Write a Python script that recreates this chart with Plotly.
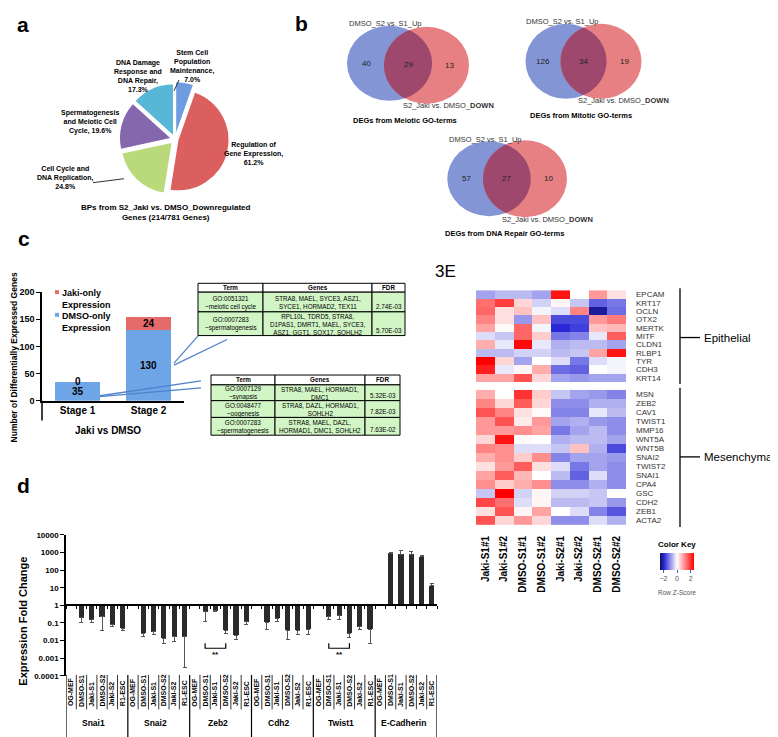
import numpy as np
import plotly.graph_objects as go

FONT = "Liberation Sans, Arial, Helvetica, sans-serif"
W, H = 778, 737

# ======================= DATA =======================
# (a) pie
pie_names = ["Stem Cell Population Maintenance", "Regulation of Gene Expression",
             "Cell Cycle and DNA Replication", "Spermatogenesis and Meiotic Cell Cycle",
             "DNA Damage Response and DNA Repair"]
pie_pct = [7.0, 61.2, 24.8, 19.6, 17.3]
pie_label_fmt = ["Stem Cell<br>Population<br>Maintenance,<br>{}%",
                 "Regulation of<br>Gene Expression,<br>{}%",
                 "Cell Cycle and<br>DNA Replication,<br>{}%",
                 "Spermatogenesis<br>and Meiotic Cell<br>Cycle, {}%",
                 "DNA Damage<br>Response and<br>DNA Repair,<br>{}%"]
pie_colors = ["#6f9be0", "#dc5f5f", "#b9d97a", "#8467ad", "#58b7d6"]
pie_title = "BPs from S2_Jaki vs. DMSO_Downregulated<br>Genes (214/781 Genes)"

# (b) venn diagrams
venn_titles = ["DEGs from Meiotic GO-terms", "DEGs from Mitotic GO-terms",
               "DEGs from DNA Repair GO-terms"]
venn_only_a = [40, 126, 57]
venn_both = [29, 34, 27]
venn_only_b = [13, 19, 10]
venn_set_a = "DMSO_S2 vs. S1_Up"
venn_set_b = "S2_Jaki vs. DMSO_<b>DOWN</b>"

# (c) stacked bars + GO tables
stages = ["Stage 1", "Stage 2"]
dmso_only = [35, 130]
jaki_only = [0, 24]
series_c = ["Jaki-only<br>Expression", "DMSO-only<br>Expression"]
table_header = ["Term", "Genes", "FDR"]
t1_terms = ["GO:0051321<br>~meiotic cell cycle", "GO:0007283<br>~spermatogenesis"]
t1_genes = ["STRA8, MAEL, SYCE3, ASZ1,<br>SYCE1, HORMAD2, TEX11",
            "RPL10L, TDRD5, STRA8,<br>D1PAS1, DMRT1, MAEL, SYCE3,<br>ASZ1, GGT1, SOX17, SOHLH2"]
t1_fdr = ["2.74E-03", "5.70E-03"]
t2_terms = ["GO:0007129<br>~synapsis", "GO:0048477<br>~oogenesis", "GO:0007283<br>~spermatogenesis"]
t2_genes = ["STRA8, MAEL, HORMAD1,<br>DMC1", "STRA8, DAZL, HORMAD1,<br>SOHLH2",
            "STRA8, MAEL, DAZL,<br>HORMAD1, DMC1, SOHLH2"]
t2_fdr = ["5.32E-03", "7.82E-03", "7.63E-02"]

# (3E) heatmap (row z-scores)
heat_cols = ["Jaki-S1#1", "Jaki-S1#2", "DMSO-S1#1", "DMSO-S1#2",
             "Jaki-S2#1", "Jaki-S2#2", "DMSO-S2#1", "DMSO-S2#2"]
epi_genes = ["EPCAM", "KRT17", "OCLN", "OTX2", "MERTK", "MITF", "CLDN1", "RLBP1", "TYR", "CDH3", "KRT14"]
epi_z = [
    [-0.8, -0.6, -0.6, -0.8, 2.3, 0.0, 1.0, 0.3],
    [1.4, 1.9, 0.4, -0.4, 0.1, -0.5, -1.4, -1.2],
    [1.5, 0.3, 0.6, -0.1, -0.3, 1.2, -2.2, -1.3],
    [1.2, 0.3, -0.9, 0.6, -1.6, -1.6, 1.0, 1.3],
    [0.9, 0.05, 1.5, -0.1, -1.9, -1.7, 0.6, 0.7],
    [-0.3, -0.5, 1.5, 0.5, -1.2, -1.1, -0.2, 1.6],
    [0.8, -0.2, 2.4, -0.2, -0.7, -0.6, -0.6, -0.8],
    [-0.6, -0.6, -0.4, -0.4, -0.6, -0.5, 0.9, 2.3],
    [2.5, 0.4, -0.8, 0.0, -0.3, -1.2, -0.3, -0.1],
    [2.2, -0.2, 0.1, 0.8, -1.3, -1.4, 0.0, -0.1],
    [0.9, 0.9, 1.7, 0.4, -0.8, -0.9, -0.8, -0.8],
]
mes_genes = ["MSN", "ZEB2", "CAV1", "TWIST1", "MMP16", "WNT5A", "WNT5B", "SNAI2", "TWIST2",
             "SNAI1", "CPA4", "GSC", "CDH2", "ZEB1", "ACTA2"]
mes_z = [
    [0.8, 0.0, 2.0, 0.5, -0.5, -0.8, -0.9, -1.1],
    [1.2, 0.4, 1.6, 0.4, -1.0, -1.0, -0.7, -0.7],
    [1.7, 1.2, 0.3, 0.05, -1.1, -1.1, -0.2, -0.6],
    [1.0, 1.7, 0.2, 1.0, -0.8, -0.7, -0.9, -1.0],
    [1.0, 1.0, 1.1, 0.9, -1.2, -0.8, -0.6, -1.0],
    [0.4, 2.3, 0.05, 0.0, -0.7, -0.6, -0.6, -0.8],
    [1.2, 1.1, -0.3, -0.3, -0.5, 0.6, -0.7, -1.6],
    [0.8, 1.1, 0.5, 1.1, -1.1, -0.8, -0.8, -0.9],
    [0.3, 1.0, 1.6, 0.3, -0.3, -1.2, -0.8, -1.0],
    [0.9, 1.6, 0.7, 0.0, -0.6, -1.4, -0.3, -1.0],
    [1.1, 0.5, 0.8, 1.1, -1.0, -1.0, -0.7, -1.0],
    [-0.5, 2.5, -0.4, 0.1, -0.4, -0.4, -0.5, 0.0],
    [1.8, 1.4, -0.3, 0.1, -0.6, -0.6, -0.5, -0.9],
    [0.3, 1.7, 0.1, 0.9, 0.0, -0.3, -1.1, -1.5],
    [1.7, 0.4, 1.0, 0.4, -1.0, -1.0, -0.3, -0.7],
]

# (d) qPCR fold change (log axis)
genes_d = ["Snai1", "Snai2", "Zeb2", "Cdh2", "Twist1", "E-Cadherin"]
samples_d = ["OG-MEF", "DMSO-S1", "Jaki-S1", "DMSO-S2", "Jaki-S2", "R1-ESC"]
fc_snai1 = [1, 0.20, 0.16, 0.22, 0.08, 0.05]
fc_snai2 = [1, 0.027, 0.032, 0.014, 0.017, 0.017]
fc_zeb2 = [1, 0.42, 0.50, 0.04, 0.02, 0.12]
fc_cdh2 = [1, 0.11, 0.19, 0.04, 0.04, 0.045]
fc_twist1 = [1, 0.22, 0.27, 0.027, 0.06, 0.045]
fc_ecad = [1, 900, 800, 800, 600, 13.5]
err_snai1 = [1, 0.11, 0.11, 0.036, 0.065, 0.04]
err_snai2 = [1, 0.017, 0.023, 0.007, 0.009, 0.0003]
err_zeb2 = [1, 0.12, 0.42, 0.027, 0.011, 0.08]
err_cdh2 = [1, 0.045, 0.12, 0.011, 0.023, 0.023]
err_twist1 = [1, 0.16, 0.16, 0.016, 0.045, 0.0065]
err_ecad = [1, 1000, 1300, 1100, 680, 18]
ytick_d = [0.0001, 0.001, 0.01, 0.1, 1, 10, 100, 1000, 10000]
sig_pairs = [("Zeb2", "DMSO-S1", "DMSO-S2"), ("Twist1", "DMSO-S1", "DMSO-S2")]

# ======================= HELPERS =======================
def X(px):
    return px / W


def Y(py):
    return 1 - py / H


annotations = []
shapes = []


def add_text(x, y, s, size=8, bold=False, color="black", xanchor="center", yanchor="middle",
             angle=0, xref="paper", yref="paper", xshift=0, align="center"):
    annotations.append(dict(
        x=X(x) if xref == "paper" else x, y=Y(y) if yref == "paper" else y,
        xref=xref, yref=yref, text=f"<b>{s}</b>" if bold else s, showarrow=False,
        font=dict(family=FONT, size=size, color=color), xanchor=xanchor, yanchor=yanchor,
        textangle=angle, xshift=xshift, align=align, borderpad=0))


def add_line(x0, y0, x1, y1, color="black", width=1):
    shapes.append(dict(type="line", xref="paper", yref="paper", x0=X(x0), y0=Y(y0),
                       x1=X(x1), y1=Y(y1), line=dict(color=color, width=width)))


def draw_table(col_edges, row_edges, header, columns, size=6.3):
    nrows = len(columns[0])
    for r in range(nrows + 1):
        for c in range(len(header)):
            x0, x1 = col_edges[c], col_edges[c + 1]
            y0, y1 = row_edges[r], row_edges[r + 1]
            shapes.append(dict(type="rect", xref="paper", yref="paper", x0=X(x0), x1=X(x1),
                               y0=Y(y1), y1=Y(y0), fillcolor="white" if r == 0 else "#d2f5c6",
                               line=dict(color="black", width=1)))
            if r == 0:
                add_text((x0 + x1) / 2, (y0 + y1) / 2, header[c], size=size, bold=True)
            elif c == len(header) - 1:
                add_text((x0 + x1) / 2, y1 - 1, columns[c][r - 1], size=size, yanchor="bottom")
            else:
                add_text((x0 + x1) / 2, (y0 + y1) / 2 + 0.5, columns[c][r - 1], size=size)


fig = go.Figure()

# ======================= (a) PIE =======================
fig.add_trace(go.Pie(values=pie_pct, labels=pie_names, sort=False, direction="clockwise",
                     rotation=0, pull=[0.14, 0.07, 0.1, 0.1, 0.1], textinfo="none",
                     marker=dict(colors=pie_colors, line=dict(color="white", width=0)),
                     domain=dict(x=[X(108), X(226)], y=[Y(186), Y(70)]),
                     showlegend=False, hoverinfo="label+value"))
pie_label_pos = [(184, 54), (245, 142), (57, 167), (82, 110), (130, 64)]
for fmt, v, (px, py) in zip(pie_label_fmt, pie_pct, pie_label_pos):
    add_text(px, py, fmt.format(f"{v:.1f}"), size=7, bold=True)
add_line(171, 68, 166, 79, color="#333", width=1)
add_line(85, 172, 116, 168, color="#333", width=1)
add_text(158, 202, pie_title, size=8, bold=True)

# ======================= (b) VENN =======================
venn_geom = [((381.5, 51, 42.5, 38), (418.5, 53, 42.5, 39)),
             ((558, 49, 40.5, 38), (593, 49, 40.5, 38)),
             ((481, 168, 41.7, 38), (517, 168, 42, 39))]


def ell_pts(cx, cy, rx, ry, n=180):
    t = np.linspace(0, 2 * np.pi, n, endpoint=False)
    return cx + rx * np.cos(t), cy + ry * np.sin(t)


def inside(xs, ys, cx, cy, rx, ry):
    return ((xs - cx) / rx) ** 2 + ((ys - cy) / ry) ** 2 <= 1


def arc(xs, ys, mask):
    n = len(mask)
    start = [i for i in range(n) if mask[i] and not mask[i - 1]][0]
    order = [(start + k) % n for k in range(n) if mask[(start + k) % n]]
    return list(xs[order]), list(ys[order])


def path_of(xs, ys):
    return "M " + " L ".join(f"{X(a):.5f},{Y(b):.5f}" for a, b in zip(xs, ys)) + " Z"


for i, (ca, cb) in enumerate(venn_geom):
    for (cx, cy, rx, ry), col in ((ca, "rgb(132,149,214)"), (cb, "rgb(231,128,130)")):
        shapes.append(dict(type="circle", xref="paper", yref="paper", x0=X(cx - rx), x1=X(cx + rx),
                           y0=Y(cy + ry), y1=Y(cy - ry), fillcolor=col, line=dict(width=0)))
    ax, ay = ell_pts(*ca)
    bx, by = ell_pts(*cb)
    a_x, a_y = arc(ax, ay, inside(ax, ay, *cb))
    b_x, b_y = arc(bx, by, inside(bx, by, *ca))
    shapes.append(dict(type="path", xref="paper", yref="paper", path=path_of(a_x + b_x, a_y + b_y),
                       fillcolor="rgb(158,72,110)", line=dict(width=0)))
    acx, acy, arx, ary = ca
    bcx, bcy, brx, bry = cb
    add_text(acx - 23, acy, str(venn_only_a[i]), size=8, color="#222")
    add_text((acx + bcx) / 2, (acy + bcy) / 2, str(venn_both[i]), size=8, color="#222")
    add_text(bcx + 23, bcy, str(venn_only_b[i]), size=8, color="#222")
    add_text(acx - 4, acy - ary - 2, venn_set_a, size=7.5, color="#333")
    add_text(bcx + 22, bcy + bry + 2, venn_set_b, size=7.5, color="#333")
    add_text((acx + bcx) / 2 - 3, bcy + bry + 17, venn_titles[i], size=7.5, bold=True)

# ======================= (c) STACKED BARS =======================
fig.add_trace(go.Bar(x=stages, y=dmso_only, name=series_c[1], marker=dict(color="#6ea5e6", line=dict(width=0)),
                     width=0.64, xaxis="x", yaxis="y", showlegend=False))
fig.add_trace(go.Bar(x=stages, y=jaki_only, name=series_c[0], marker=dict(color="#e56b6b", line=dict(width=0)),
                     width=0.64, xaxis="x", yaxis="y", showlegend=False))
for s, d, j in zip(stages, dmso_only, jaki_only):
    add_text(s, d / 2, str(d), size=10, bold=True, xref="x", yref="y")
    add_text(s, d + j / 2, str(j), size=10, bold=True, xref="x", yref="y")
for k, (lab, col, ly) in enumerate(zip(series_c, ["#e56b6b", "#6ea5e6"], [290, 313])):
    shapes.append(dict(type="rect", xref="paper", yref="paper", x0=X(47), x1=X(51),
                       y0=Y(ly - 5), y1=Y(ly - 9), fillcolor=col, line=dict(width=0)))
    add_text(53, ly, lab, size=9, bold=True, xanchor="left", align="left")
add_line(34, 393, 34, 413, width=1.5)
add_text(100, 423, "Jaki vs DMSO", size=10, bold=True)
add_text(6, 262, "Number of Differentially Expressed Genes", size=8.5, bold=True, angle=-90,
         yanchor="top")
blue_line = "rgb(80,130,205)"
add_line(166, 355, 193, 324, blue_line, 1.3)
add_line(166, 357, 219, 331, blue_line, 1.3)
add_line(92, 388, 193, 373, blue_line, 1.3)
add_line(92, 389, 193, 380, blue_line, 1.3)

draw_table([190, 255, 364, 397], [274, 283, 303, 327], table_header, [t1_terms, t1_genes, t1_fdr])
draw_table([203, 267, 357, 392], [367, 377, 393, 410, 428], table_header, [t2_terms, t2_genes, t2_fdr])

# ======================= (3E) HEATMAP =======================
fig.add_trace(go.Heatmap(z=epi_z, x=heat_cols, y=epi_genes, coloraxis="coloraxis",
                         xaxis="x2", yaxis="y2"))
fig.add_trace(go.Heatmap(z=mes_z, x=heat_cols, y=mes_genes, coloraxis="coloraxis",
                         xaxis="x3", yaxis="y3"))
add_text(437, 262, "3E", size=17)
for (y0, y1, ym, lab) in [(279, 376, 329, "Epithelial"), (380, 521, 450, "Mesenchymal")]:
    add_line(672, y0, 672, y1, width=1.3)
    add_line(672, ym, 692, ym, width=1.3)
    add_text(695, ym, lab, size=11.5, xanchor="left")
add_text(669, 539, "Color Key", size=8, bold=True)
add_text(669, 587, "Row Z-Score", size=6.5, color="#555")

# ======================= (d) FOLD CHANGE =======================
fc_all = [fc_snai1, fc_snai2, fc_zeb2, fc_cdh2, fc_twist1, fc_ecad]
err_all = [err_snai1, err_snai2, err_zeb2, err_cdh2, err_twist1, err_ecad]
vals = np.array([v for g in fc_all for v in g], dtype=float)
caps = np.array([v for g in err_all for v in g], dtype=float)
lv, lc = np.log10(vals), np.log10(caps)
up = np.where(lv > 0, lc - lv, 0)
dn = np.where(lv < 0, lv - lc, 0)
xpos = np.arange(len(vals))
fig.add_trace(go.Bar(x=xpos, y=lv, xaxis="x4", yaxis="y4", width=0.5, showlegend=False,
                     marker=dict(color="#2a2a2a", line=dict(width=0)),
                     error_y=dict(type="data", symmetric=False, array=up, arrayminus=dn,
                                  color="#555", thickness=1, width=2)))
ns = len(samples_d)
for g, gene in enumerate(genes_d):
    for s, samp in enumerate(samples_d):
        add_text(g * ns + s, 704, samp, size=7, bold=True, angle=-90, xref="x4", yanchor="bottom")
    add_text(g * ns + (ns - 1) / 2, 720, gene, size=8.5, bold=True, xref="x4", xshift=-3)
for b in range(len(vals) + 1):
    bottom = 737 if b % ns == 0 else 706
    shapes.append(dict(type="line", xref="x4", yref="paper", x0=b - 0.5, x1=b - 0.5,
                       y0=Y(671), y1=Y(bottom), line=dict(color="black", width=1.2 if b % ns == 0 else 0.8)))
for gene, sa, sb in sig_pairs:
    g = genes_d.index(gene)
    xa, xb = g * ns + samples_d.index(sa), g * ns + samples_d.index(sb)
    shapes.append(dict(type="path", xref="x4", yref="paper",
                       path=f"M {xa},{Y(639)} L {xa},{Y(644)} L {xb},{Y(644)} L {xb},{Y(639)}",
                       line=dict(color="black", width=1.2)))
    add_text((xa + xb) / 2, 650, "**", size=8, bold=True, xref="x4")
add_text(15, 617, "Expression Fold Change", size=11, bold=True, angle=-90)

for lab, (px, py) in zip("abcd", [(15, 12), (293, 11), (16, 229), (15, 479)]):
    add_text(px, py, lab, size=21, bold=True)

# ======================= LAYOUT =======================
d4 = [Y(672), Y(529)]
zero_pos = d4[0] + (d4[1] - d4[0]) * 0.5
tf = dict(family=FONT, size=9, color="black")
gene_font = dict(family=FONT, size=8, color="#333")
fig.update_layout(
    width=W, height=H, margin=dict(l=0, r=0, t=0, b=0),
    paper_bgcolor="white", plot_bgcolor="white", barmode="stack", bargap=0,
    font=dict(family=FONT), showlegend=False,
    xaxis=dict(domain=[X(34), X(176)], anchor="y", showline=True, linecolor="black", linewidth=1.5,
               ticks="", tickvals=stages, ticktext=[f"<b>{s}</b>" for s in stages],
               tickfont=dict(family=FONT, size=10, color="black"), showgrid=False, fixedrange=True),
    yaxis=dict(domain=[Y(393), Y(283)], anchor="x", range=[0, 200], showline=True, linecolor="black",
               linewidth=1.5, ticks="outside", ticklen=4, tickcolor="black",
               tickvals=[0, 50, 100, 150, 200], ticktext=[f"<b>{v}</b>" for v in [0, 50, 100, 150, 200]],
               tickfont=tf, showgrid=False, zeroline=False),
    xaxis2=dict(domain=[X(468), X(618)], anchor="y2", showticklabels=False, ticks="", showgrid=False,
                zeroline=False),
    yaxis2=dict(domain=[Y(374), Y(281)], anchor="x2", side="right", autorange="reversed", ticks="",
                tickmode="array", tickvals=epi_genes, ticktext=epi_genes,
                tickfont=gene_font, ticklabelstandoff=9, showgrid=False, zeroline=False),
    xaxis3=dict(domain=[X(468), X(618)], anchor="y3", ticks="", tickangle=-90, tickvals=heat_cols,
                ticktext=[f"<b>{c}</b>" for c in heat_cols], ticklabelstandoff=8,
                tickfont=dict(family=FONT, size=10, color="black"), showgrid=False, zeroline=False),
    yaxis3=dict(domain=[Y(519), Y(382)], anchor="x3", side="right", autorange="reversed", ticks="",
                tickmode="array", tickvals=mes_genes, ticktext=mes_genes,
                tickfont=gene_font, ticklabelstandoff=9, showgrid=False, zeroline=False),
    xaxis4=dict(domain=[X(58), X(429)], anchor="free", position=zero_pos, range=[-0.5, len(vals) - 0.5],
                showline=True, linecolor="black", linewidth=1.5, ticks="outside", ticklen=3,
                tickcolor="black", tickvals=list(np.arange(-0.5, len(vals), 1.0)),
                showticklabels=False, showgrid=False, zeroline=False),
    yaxis4=dict(domain=d4, anchor="x4", range=[-4, 4], showline=True, linecolor="black", linewidth=1.5,
                ticks="outside", ticklen=4, tickcolor="black", tickvals=list(np.log10(ytick_d)),
                ticktext=[f"<b>{v:g}</b>" if v >= 1 else f"<b>{v:.{int(round(-np.log10(v)))}f}</b>" for v in ytick_d],
                tickfont=dict(family=FONT, size=8, color="black"), showgrid=False, zeroline=False),
    coloraxis=dict(cmin=-2.5, cmax=2.5,
                   colorscale=[[0, "rgb(15,15,95)"], [0.12, "rgb(40,40,215)"], [0.5, "rgb(255,255,255)"],
                               [1, "rgb(255,0,0)"]],
                   colorbar=dict(orientation="h", x=X(669), xanchor="center", y=Y(547), yanchor="top",
                                 len=34, lenmode="pixels", thickness=17, thicknessmode="pixels",
                                 tickvals=[-2, 0, 2], ticks="outside", ticklen=3, tickcolor="#4a5ad0",
                                 tickfont=dict(family=FONT, size=7, color="#555"), outlinewidth=0,
                                 xpad=0, ypad=0)),
    annotations=annotations, shapes=shapes,
)

fig.write_html("out.html")
